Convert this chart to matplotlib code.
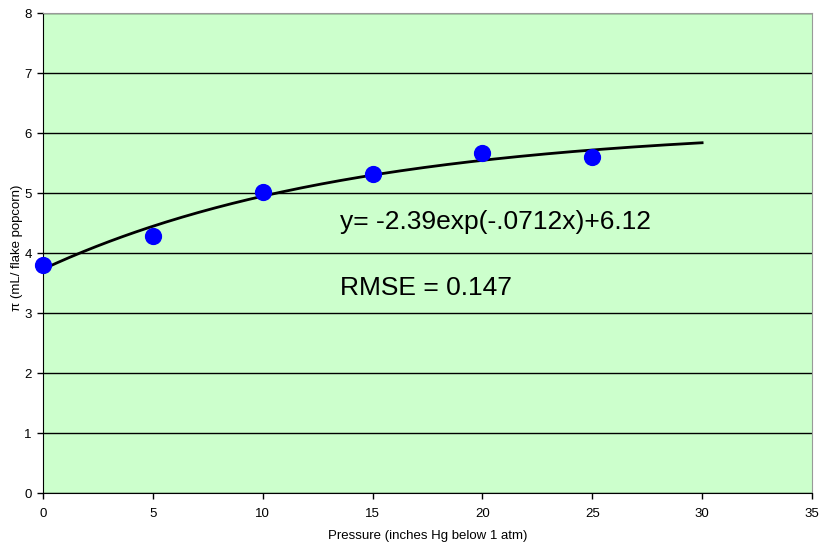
import numpy as np
import matplotlib.pyplot as plt

plt.rcParams['font.family'] = ['Liberation Sans', 'DejaVu Sans']

# measured popcorn volume per flake vs vacuum
pressure = [0, 5, 10, 15, 20, 25]
volume = [3.80, 4.28, 5.02, 5.32, 5.67, 5.60]

# exponential fit parameters
fit_a = -2.39
fit_k = -0.0712
fit_c = 6.12
fit_label = "y= -2.39exp(-.0712x)+6.12"
rmse_label = "RMSE = 0.147"


def main():
	fig = plt.figure(figsize=(8.2, 5.47), dpi=100)
	ax = fig.add_axes([0.0524, 0.0987, 0.9378, 0.8775])
	ax.set_facecolor('#CCFFCC')

	xs = np.linspace(0, 30, 200)
	ax.plot(xs, fit_a * np.exp(fit_k * xs) + fit_c, color='black', lw=2, zorder=3)
	ax.scatter(pressure, volume, s=130, color='#0000FF', zorder=4, clip_on=False)

	ax.text(13.5, 4.52, fit_label, fontsize=19, va='center')
	ax.text(13.5, 3.42, rmse_label, fontsize=19, va='center')

	ax.set_xlim(0, 35)
	ax.set_ylim(0, 8)
	ax.set_xticks(range(0, 36, 5))
	ax.set_yticks(range(0, 9))
	ax.yaxis.grid(True, color='black', lw=1)
	ax.set_axisbelow(True)

	ax.tick_params(direction='out', length=4, width=1, labelsize=9.5, colors='black')
	ax.tick_params(axis='x', pad=7)
	ax.tick_params(axis='y', pad=4)
	for side in ['top', 'right']:
		ax.spines[side].set_color('#999999')
	for side in ['left', 'bottom']:
		ax.spines[side].set_color('black')

	ax.set_xlabel('Pressure (inches Hg below 1 atm)', fontsize=9.5)
	ax.set_ylabel('π (mL/ flake popcorn)', fontsize=9.5)
	ax.xaxis.set_label_coords(0.5, -0.077)
	ax.yaxis.set_label_coords(-0.026, 0.51)

	fig.savefig('out.png', dpi=100)


if __name__ == '__main__':
	main()
